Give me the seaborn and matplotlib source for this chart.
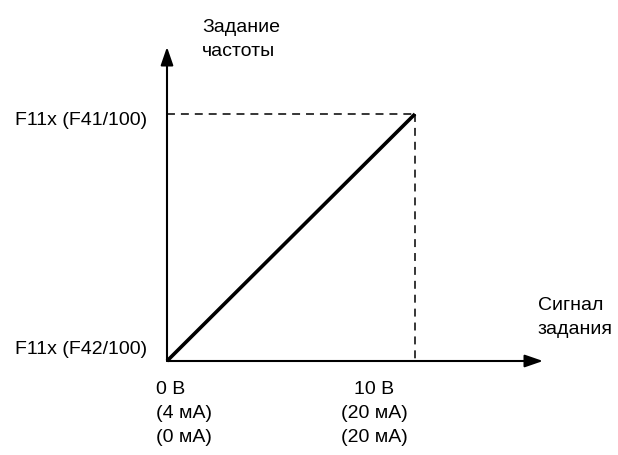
import matplotlib
matplotlib.use('Agg')
import matplotlib.pyplot as plt
import seaborn as sns
from matplotlib import font_manager as fm

# ---- data ----
signal = [0, 10]                 # В (signal 0..10 V)
freq = [0, 1]                    # 0 -> F11x (F42/100), 1 -> F11x (F41/100)
y_labels = ['F11x (F42/100)', 'F11x (F41/100)']
x_label_0 = ['0 В', '(4 мА)', '(0 мА)']
x_label_10 = ['10 В', '(20 мА)', '(20 мА)']
y_title = ['Задание', 'частоты']
x_title = ['Сигнал', 'задания']

sns.set_theme(style='white')
names = {f.name for f in fm.fontManager.ttflist}
if 'Liberation Sans Narrow' in names:
    fam = ['Liberation Sans Narrow', 'DejaVu Sans']
    fs = 17
else:
    fam = ['Liberation Sans', 'DejaVu Sans']
    fs = 14
plt.rcParams['font.family'] = fam

W, H = 618, 455
fig = plt.figure(figsize=(W / 100, H / 100), dpi=100)
ax = fig.add_axes([0, 0, 1, 1])

# pixel geometry of the reference
X0, Y0 = 167, 361          # origin
X10, Y1 = 415, 114         # point (10 V, F41)
XTIP, YTIP = 543, 47       # arrow tips
ppx = (X10 - X0) / 10.0
ppy = (Y0 - Y1) / 1.0


def dx(px):
    return (px - X0) / ppx


def dy(py):
    return (Y0 - py) / ppy


ax.set_xlim(dx(0), dx(W))
ax.set_ylim(dy(H), dy(0))
for s in ax.spines.values():
    s.set_visible(False)
ax.set_xticks([])
ax.set_yticks([])
ax.set_facecolor('white')

# axes arrows
ms = 10
arr = dict(arrowstyle='-|>,head_length=1.1,head_width=0.38', color='black',
           lw=1.5, shrinkA=0, shrinkB=0, mutation_scale=ms)
ax.annotate('', xy=(dx(XTIP), 0), xytext=(0, 0), arrowprops=arr)
ax.annotate('', xy=(0, dy(YTIP)), xytext=(0, 0), arrowprops=arr)

# dashed guides
dash = (0, (5.2, 3.9))
ax.plot([0, signal[1]], [freq[1], freq[1]], color='black', lw=1.1, ls=dash)
ax.plot([signal[1], signal[1]], [freq[1], freq[0]], color='black', lw=1.1, ls=dash)

# characteristic
sns.lineplot(x=signal, y=freq, color='black', lw=2.6, ax=ax,
             solid_capstyle='butt')

# labels
ax.text(dx(147), dy(125), y_labels[1], ha='right', va='baseline', fontsize=fs, color='black')
ax.text(dx(147), dy(354), y_labels[0], ha='right', va='baseline', fontsize=fs, color='black')

for i, (a, b) in enumerate(zip(x_label_0, x_label_10)):
    base = 394 + 24 * i
    ax.text(dx(156), dy(base), a, ha='left', va='baseline', fontsize=fs, color='black')
    ax.text(dx(374), dy(base), b, ha='center', va='baseline', fontsize=fs, color='black')

for i, t in enumerate(y_title):
    ax.text(dx(202), dy(32 + 24 * i), t, ha='left', va='baseline', fontsize=fs, color='black')
for i, t in enumerate(x_title):
    ax.text(dx(538), dy(310 + 24 * i), t, ha='left', va='baseline', fontsize=fs, color='black')

fig.savefig('out.png', dpi=100, facecolor='white')
